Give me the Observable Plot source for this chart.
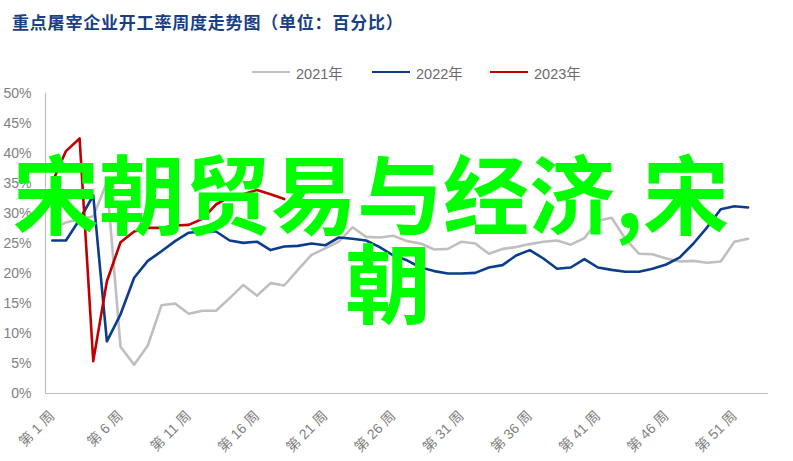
<!DOCTYPE html>
<html><head><meta charset="utf-8">
<script src="https://cdn.jsdelivr.net/npm/d3@7"></script>
<script src="https://cdn.jsdelivr.net/npm/@observablehq/plot@0.6"></script>
<style>
body{margin:0;background:#fff;width:793px;height:461px;overflow:hidden;position:relative;font-family:"Liberation Sans","Noto Sans CJK SC",sans-serif;}
#title{position:absolute;left:12px;top:10px;font-family:"Noto Sans CJK SC";font-weight:700;font-size:17px;color:#1b3f84;letter-spacing:0.8px;white-space:nowrap;line-height:24px}
#legend{position:absolute;left:0;top:62px;height:20px;width:793px}
.li{position:absolute;top:0;display:flex;align-items:center;height:20px;font-size:14.5px;color:#6b6b6b;white-space:nowrap}
.li .sw{display:inline-block;width:38px;height:2.5px;margin-right:6px}
#chart{position:absolute;left:0;top:85px}
#overlay{position:absolute;left:0;top:0;pointer-events:none}
</style></head><body>
<div id="title">重点屠宰企业开工率周度走势图（单位：百分比）</div>
<div id="legend"></div>
<div id="chart"></div>
<script>
const weeks = [1,2,3,4,5,6,7,8,9,10,11,12,13,14,15,16,17,18,19,20,21,22,23,24,25,26,27,28,29,30,31,32,33,34,35,36,37,38,39,40,41,42,43,44,45,46,47,48,49,50,51,52];
const rate2021 = [27.5,28.5,29.1,29.5,35.2,7.8,4.8,8.0,14.7,15.0,13.3,13.8,13.8,15.9,18.1,16.3,18.4,18.0,20.6,23.1,24.2,25.3,27.7,26.1,26.0,26.3,25.4,25.0,24.0,24.1,25.3,25.0,23.3,24.1,24.4,24.9,25.3,25.5,24.8,25.9,28.8,29.3,25.8,23.3,23.2,22.5,22.0,22.1,21.8,22.0,25.3,25.8];
const rate2022 = [25.5,25.5,29.0,33.0,8.7,13.2,19.3,22.1,23.7,25.4,26.8,27.0,27.0,25.5,25.1,25.3,23.9,24.5,24.6,25.0,24.7,26.0,25.8,25.5,24.4,23.0,22.2,21.0,20.4,20.0,20.0,20.1,21.0,21.4,23.0,23.9,22.5,20.8,21.0,22.4,21.0,20.6,20.3,20.3,20.8,21.5,22.7,25.0,27.7,30.7,31.2,31.0];
const rate2023 = [35.2,40.4,42.5,5.4,18.7,25.2,27.0,27.6,27.6,28.0,28.1,29.1,31.5,32.8,33.2,33.9,33.2,32.4];
const seriesNames = ["2021年","2022年","2023年"];
const seriesColors = ["#bfbfbf","#0b3d8c","#c00000"];
const yTicks = [0,5,10,15,20,25,30,35,40,45,50];
const xTicks = [1,6,11,16,21,26,31,36,41,46,51];
const overlayLine1 = "宋朝贸易与经济,宋";
const overlayLine2 = "朝";

const allSeries = [rate2021, rate2022, rate2023];
const rows = allSeries.flatMap((vals, k) => vals.map((v, i) => ({week: weeks[i], rate: v, year: seriesNames[k]})));

// legend
const legendX = [252, 372, 490];
const lg = document.getElementById("legend");
seriesNames.forEach((n, i) => {
  const d = document.createElement("div");
  d.className = "li";
  d.style.left = legendX[i] + "px";
  d.innerHTML = `<span class="sw" style="background:${seriesColors[i]}"></span>${n}`;
  lg.appendChild(d);
});

const chart = Plot.plot({
  width: 793, height: 376,
  marginTop: 8, marginBottom: 68, marginLeft: 45, marginRight: 25,
  x: {type: "linear", domain: [0.5, 53.5]},
  y: {domain: [0, 50]},
  color: {domain: seriesNames, range: seriesColors},
  style: {color: "#7f7f7f", fontFamily: "'Liberation Sans','Noto Sans CJK SC',sans-serif", background: "transparent"},
  marks: [
    Plot.axisY({ticks: yTicks, tickFormat: d => d + "%", tickSize: 0, tickPadding: 14, fontSize: 14, label: null}),
    Plot.axisX({ticks: xTicks, tickFormat: d => `第 ${d} 周`, tickRotate: -45, tickSize: 0, tickPadding: 20, fontSize: 14, label: null}),
    Plot.ruleX([0.5], {y1: 0, y2: 50, stroke: "#bfbfbf", strokeWidth: 1.2}),
    Plot.ruleY([0], {stroke: "#bfbfbf", strokeWidth: 1.2}),
    Plot.lineY(rows, {x: "week", y: "rate", z: "year", stroke: "year", strokeWidth: 2.6})
  ]
});
document.getElementById("chart").appendChild(chart);

// green overlay text
const ov = d3.select("body").append("svg").attr("id", "overlay").attr("width", 793).attr("height", 461);
ov.append("text").attr("x", 13).attr("y", 228).attr("font-family", "Noto Sans CJK SC").attr("font-weight", 600)
  .attr("font-size", 86).attr("fill", "#00ff00").text(overlayLine1);
ov.append("text").attr("x", 388).attr("y", 317).attr("text-anchor", "middle").attr("font-family", "Noto Sans CJK SC").attr("font-weight", 600)
  .attr("font-size", 86).attr("fill", "#00ff00").text(overlayLine2);
</script>
</body></html>
